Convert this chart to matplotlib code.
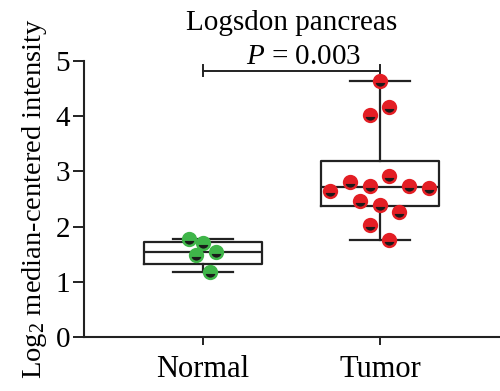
import matplotlib
matplotlib.use("Agg")
import matplotlib.pyplot as plt

plt.rcParams['font.family'] = ['Liberation Serif', 'DejaVu Serif']
plt.rcParams['mathtext.fontset'] = 'custom'
plt.rcParams['mathtext.it'] = 'Liberation Serif:italic'
plt.rcParams['mathtext.rm'] = 'Liberation Serif'

categories = ["Normal", "Tumor"]
title = "Logsdon pancreas"
p_text = "P = 0.003"

normal_values = [1.78, 1.70, 1.54, 1.48, 1.17]
normal_offsets = [-0.08, 0.0, 0.075, -0.04, 0.04]
tumor_values = [4.64, 4.16, 4.03, 2.91, 2.80, 2.74, 2.74, 2.70, 2.65, 2.47, 2.39, 2.27, 2.03, 1.76]
tumor_offsets = [0.0, 0.053, -0.056, 0.053, -0.17, -0.056, 0.164, 0.275, -0.28, -0.113, 0.0, 0.11, -0.056, 0.053]

# box statistics: whisker low, Q1, median, Q3, whisker high
normal_box = [1.18, 1.33, 1.54, 1.73, 1.78]
tumor_box = [1.76, 2.37, 2.72, 3.18, 4.64]
p_bracket_y = 4.82

colors = ["#3fb549", "#e31e24"]

fig = plt.figure(figsize=(5.0, 3.91), dpi=100)
ax = fig.add_axes([0.168, 0.138, 0.832, 0.706])

stats = []
for name, b in zip(categories, [normal_box, tumor_box]):
    stats.append(dict(label=name, whislo=b[0], q1=b[1], med=b[2], q3=b[3], whishi=b[4], fliers=[]))

lw = 1.6
ax.bxp(stats, positions=[1, 2], widths=0.665, capwidths=0.34, showfliers=False,
       boxprops=dict(color="#222222", linewidth=lw),
       whiskerprops=dict(color="#222222", linewidth=lw),
       capprops=dict(color="#222222", linewidth=lw),
       medianprops=dict(color="#222222", linewidth=lw), manage_ticks=False)

for i, (vals, offs) in enumerate([(normal_values, normal_offsets), (tumor_values, tumor_offsets)]):
    xs = [i + 1 + o for o in offs]
    ax.plot(xs, vals, linestyle="none", marker="o", markersize=9.2, fillstyle="bottom",
            markerfacecolor="#1a1a1a", markerfacecoloralt=colors[i],
            markeredgecolor=colors[i], markeredgewidth=1.8, zorder=5)

# significance bracket
ax.plot([1, 2], [p_bracket_y, p_bracket_y], color="#222222", lw=1.4, clip_on=False)
ax.plot([1, 1], [p_bracket_y - 0.1, p_bracket_y + 0.1], color="#222222", lw=1.4, clip_on=False)
ax.plot([2, 2], [p_bracket_y + 0.1, tumor_box[4]], color="#222222", lw=1.4, clip_on=False)
ax.text(1.57, p_bracket_y + 0.13, r"$\it{P}$ = 0.003", ha="center", va="baseline", fontsize=21, clip_on=False)

ax.set_title(title, fontsize=21, pad=22, x=0.5)

ax.set_xlim(0.328, 2.678)
ax.set_ylim(0, 5)
ax.set_yticks([0, 1, 2, 3, 4, 5])
ax.set_xticks([1, 2])
ax.set_xticklabels(categories, fontsize=22)
ax.tick_params(axis="y", labelsize=21, length=8, width=1.4, pad=2, color="#222222")
ax.tick_params(axis="x", length=6, width=1.4, pad=7, color="#222222")
ax.set_ylabel(r"Log$_2$ median-centered intensity", fontsize=20.5, labelpad=5)
for s in ["top", "right"]:
    ax.spines[s].set_visible(False)
for s in ["left", "bottom"]:
    ax.spines[s].set_linewidth(1.5)
    ax.spines[s].set_color("#222222")

fig.savefig("out.png", dpi=100)
